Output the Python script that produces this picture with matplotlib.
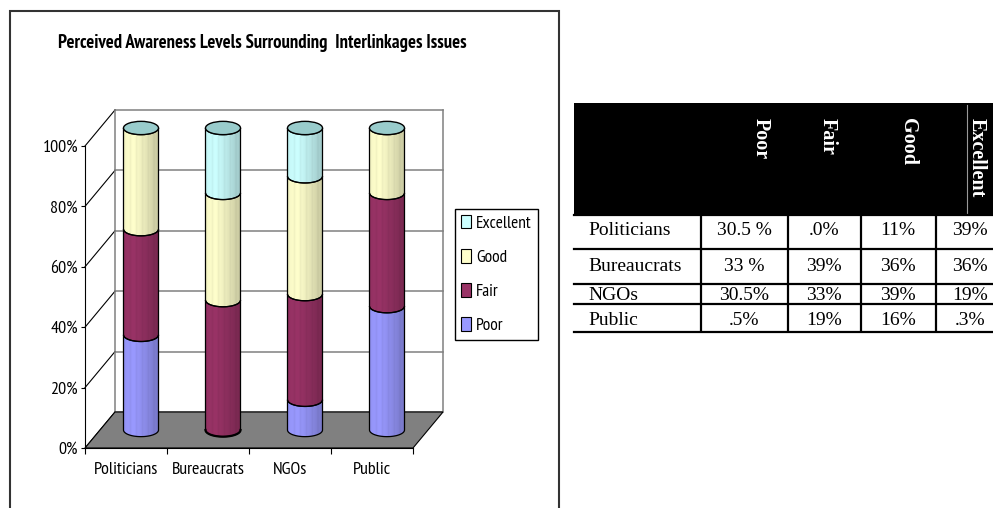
import numpy as np
import matplotlib
matplotlib.use('Agg')
import matplotlib.pyplot as plt
from matplotlib import font_manager
from matplotlib.patches import Polygon, Ellipse, Patch, Rectangle
from matplotlib.colors import to_rgb

# values (percent of each group)
groups = ['Politicians', 'Bureaucrats', 'NGOs', 'Public']
levels = ['Poor', 'Fair', 'Good', 'Excellent']
poor = [31.5, 0, 10, 41]
fair = [35, 43, 35, 37.5]
good = [33.5, 35.5, 39, 21.5]
excellent = [0, 21.5, 16, 0]
level_colors = ['#9999FF', '#993366', '#FFFFCC', '#CCFFFF']
y_ticks = [0, 20, 40, 60, 80, 100]

# the table on the right (text as printed)
table_rows = ['Politicians', 'Bureaucrats', 'NGOs', 'Public']
table_poor = ['30.5 %', '33 %', '30.5%', '.5%']
table_fair = ['.0%', '39%', '33%', '19%']
table_good = ['11%', '36%', '39%', '16%']
table_excellent = ['39%', '36%', '19%', '.3%']

# chart text is Arial Narrow in the original: take the closest narrow face that also has a bold
weights = {}
for f in font_manager.fontManager.ttflist:
    w = f.weight if isinstance(f.weight, int) else font_manager.weight_dict.get(f.weight, 400)
    weights.setdefault(f.name, set()).add(w)
narrow = ['Liberation Sans Narrow', 'Arial Narrow', 'PT Sans Narrow', 'Archivo Narrow',
          'Roboto Condensed', 'Open Sans Condensed', 'Fira Sans Condensed', 'IBM Plex Sans Condensed',
          'Encode Sans Condensed', 'Asap Condensed', 'Sofia Sans Condensed', 'Liberation Sans']
chart_font = next((f for f in narrow if f in weights and max(weights[f]) >= 700), 'Liberation Sans')
plt.rcParams['font.family'] = [chart_font, 'DejaVu Sans']

W, H = 993, 508
fig = plt.figure(figsize=(W / 100, H / 100), dpi=100)

# box round the chart
fig.add_artist(Rectangle((10 / W, -0.05), 549 / W, 1.05 - 11 / H, transform=fig.transFigure,
                         fill=False, edgecolor='#333333', lw=1.5))

fig.text(262 / W, 1 - 43 / H, 'Perceived Awareness Levels Surrounding  Interlinkages Issues',
         ha='center', va='center', fontsize=13.4, fontweight='bold')

# fake 3d: front plane in data units, back wall shifted by (dx, dy)
xs, ys = 82.0, 3.02  # px per category / per percent
dx, dy = 30 / xs, 36 / ys
ax = fig.add_axes([85 / W, (H - 448) / H, (4 + dx) * xs / W, (100 + dy) * ys / H])
ax.patch.set_visible(False)

n = len(groups)
for v in y_ticks:
    ax.plot([dx, n + dx], [v + dy, v + dy], color='#808080', lw=1.1, zorder=1, clip_on=False)
    ax.plot([0, dx], [v, v + dy], color='black', lw=0.8, zorder=1, clip_on=False)
for xx in [dx, n + dx]:
    ax.plot([xx, xx], [dy, 100 + dy], color='#808080', lw=1.1, zorder=1, clip_on=False)

floor = Polygon([[0, 0], [n, 0], [n + dx, dy], [dx, dy]], closed=True,
                facecolor='#808080', edgecolor='black', lw=0.8, zorder=2)
ax.add_patch(floor)

# cylinders: gradient image clipped to each stacked piece
rx, ry = 0.2135, 2.2
shade_t = np.linspace(0, 1, 60)
shade = np.interp(shade_t, [0, 0.3, 0.55, 1], [0.97, 1.0, 0.93, 0.78])
stripes = 1 - 0.04 * (np.sin(shade_t * 38) > 0.6)
shade = shade * stripes
series = [poor, fair, good, excellent]
t_low = np.linspace(np.pi, 2 * np.pi, 40)

for i in range(n):
    cx = i + 0.5 + dx / 2
    y0 = dy / 2
    for vals, col in zip(series, level_colors):
        h = vals[i]
        if h <= 0:
            continue
        y1 = y0 + h
        bottom = np.column_stack([cx + rx * np.cos(t_low), y0 + ry * np.sin(t_low)])
        top = np.column_stack([cx + rx * np.cos(t_low[::-1]), y1 + ry * np.sin(t_low[::-1])])
        body = Polygon(np.vstack([bottom, top]), closed=True, facecolor='none',
                       edgecolor='black', lw=0.9, zorder=4)
        ax.add_patch(body)
        img = np.clip(np.array(to_rgb(col))[None, None, :] * shade[None, :, None], 0, 1)
        im = ax.imshow(img, extent=(cx - rx, cx + rx, y0 - ry, y1 + ry), aspect='auto',
                       interpolation='bilinear', zorder=3)
        im.set_clip_path(body)
        y0 = y1
    ax.add_patch(Ellipse((cx, y0), 2 * rx, 2 * ry, facecolor='#99CCCC',
                         edgecolor='black', lw=1.0, zorder=5))
    if poor[i] == 0:
        ax.plot(cx + rx * np.cos(t_low), dy / 2 + ry * np.sin(t_low), color='black', lw=1.6, zorder=5)

ax.set_xlim(0, n + dx)
ax.set_ylim(0, 100 + dy)
ax.spines['top'].set_visible(False)
ax.spines['right'].set_visible(False)
ax.spines['left'].set_bounds(0, 100)
ax.spines['bottom'].set_bounds(0, n)
ax.set_yticks(y_ticks)
ax.set_yticklabels([f'{v}%' for v in y_ticks])
ax.set_xticks(np.arange(n + 1))
ax.set_xticklabels([])
ax.set_xticks(np.arange(n) + 0.5, minor=True)
ax.set_xticklabels(groups, minor=True)
ax.tick_params(axis='y', length=3, pad=2, labelsize=13)
ax.tick_params(axis='x', which='major', length=4)
ax.tick_params(axis='x', which='minor', length=0, pad=10, labelsize=13)

handles = [Patch(facecolor=c, edgecolor='black', lw=0.8, label=l)
           for l, c in zip(levels[::-1], level_colors[::-1])]
fig.legend(handles=handles, loc='center left', bbox_to_anchor=(455 / W, 1 - 274.5 / H),
           fancybox=False, edgecolor='black', framealpha=1, fontsize=12.5,
           handlelength=0.6, handleheight=0.85, handletextpad=0.25,
           labelspacing=1.0, borderpad=0.35, borderaxespad=0)

# table
tx = fig.add_axes([574 / W, 1 - 332 / H, (W - 574) / W, (332 - 103) / H])
tx.set_xlim(574, W)
tx.set_ylim(332, 103)
tx.axis('off')
tx.add_patch(Rectangle((574, 103), W - 574, 112, facecolor='black', edgecolor='none'))
tx.plot([967, 967], [105, 213], color='#999999', lw=0.8)

serif = 'Liberation Serif'
head_x = [761, 828, 908, 977]
for x, lab in zip(head_x, levels):
    tx.text(x, 118, lab, rotation=270, ha='center', va='top', color='white',
            family=serif, fontsize=14.5, fontweight='bold')

row_edges = [215, 249, 284, 304, 332]
col_edges = [701, 788, 861, 936]
baselines = [235, 271, 300, 325]
for y in row_edges:
    tx.plot([574, W], [y, y], color='black', lw=1.6, clip_on=False)
for x in col_edges:
    tx.plot([x, x], [215, 332], color='black', lw=1.6)

col_centers = [744, 824, 898, 970]
for r, name in enumerate(table_rows):
    tx.text(588, baselines[r], name, ha='left', va='baseline', family=serif, fontsize=14)
    for c, vals in enumerate([table_poor, table_fair, table_good, table_excellent]):
        tx.text(col_centers[c], baselines[r], vals[r], ha='center', va='baseline',
                family=serif, fontsize=14)

fig.savefig('out.png', dpi=100)
